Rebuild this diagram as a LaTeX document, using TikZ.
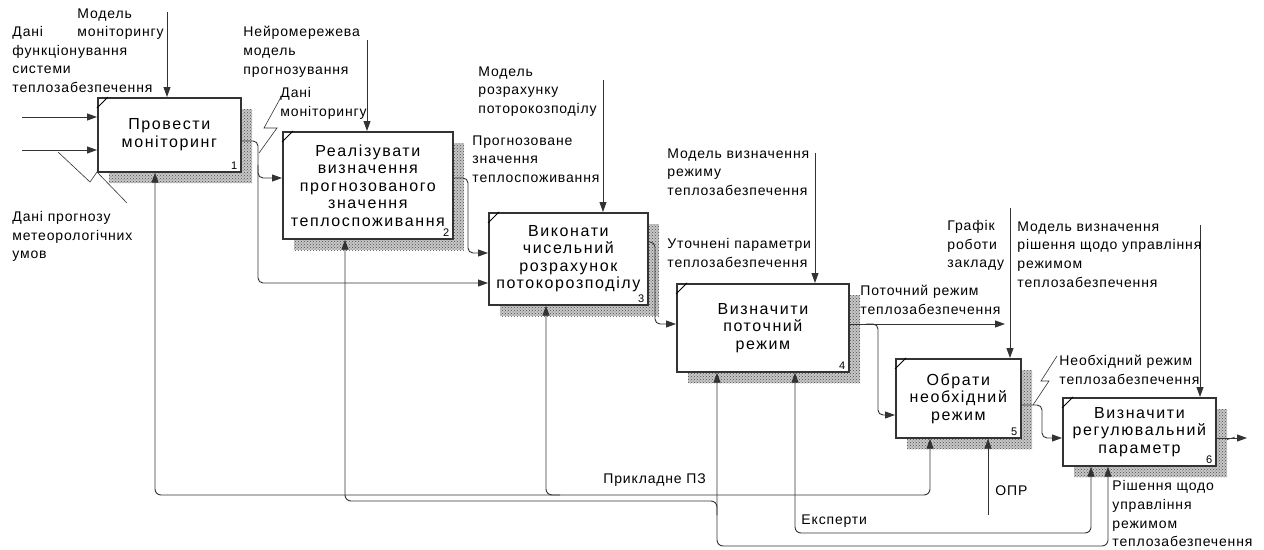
\documentclass[tikz,border=0pt]{standalone}
\usepackage{fontspec}
\setmainfont{Liberation Sans}
\newfontfamily\blockfont[LetterSpace=10]{Liberation Sans}
\newfontfamily\arrowfont[LetterSpace=6]{Liberation Sans}
\usetikzlibrary{arrows.meta,patterns}

\tikzset{
  func/.style={draw, line width=1.7pt, fill=white, anchor=north west, align=center, inner sep=0pt,
    font=\blockfont\fontsize{16}{17.5}\selectfont},
  funcshadow/.style={fill=black!22, postaction={pattern=crosshatch dots, pattern color=black!70}},
  funcno/.style={anchor=south east, inner sep=0pt, font=\fontsize{11}{11}\selectfont},
  arr/.style={-{Triangle[length=10pt,width=7pt]}},
  arrs/.style={{Triangle[length=10pt,width=7pt]}-{Triangle[length=10pt,width=7pt]}},
  arrlabel/.style={anchor=north west, align=left, inner sep=0pt,
    font=\arrowfont\fontsize{14}{18.7}\selectfont},
  squiggle/.style={line width=0.6pt},
}

\begin{document}
\begin{tikzpicture}[x=1pt, y=-1pt, line width=0.9pt, draw=black!80]
% IDEF0 decomposition, pixel-like coordinates (y grows downwards)
\useasboundingbox (0,0) rectangle (1264,549);
% Function block: name, x, y, width, height, text, number
\providecommand{\funcblock}[7]{%
  \path[funcshadow] (#2+12,#3+12) rectangle ++(#4,#5);
  \node[func, minimum width=#4pt, minimum height=#5pt] (#1) at (#2,#3) {#6};
  \draw[line width=0.9pt, black] ([yshift=-11pt]#1.north west) -- ([xshift=11pt]#1.north west);
  \node[funcno] at ([xshift=-4pt,yshift=3pt]#1.south east) {#7};
}
% Label tie of block 6 output runs under the block
\draw[squiggle] (1235,437) -- (1113,477);
% Blocks
\funcblock{b1}{97}{97}{143}{74}{Провести\\моніторинг}{1}
\funcblock{b2}{282}{131}{170}{107}{Реалізувати\\визначення\\прогнозованого\\значення\\теплоспоживання}{2}
\funcblock{b3}{488}{212}{159}{92}{Виконати\\чисельний\\розрахунок\\потокорозподілу}{3}
\funcblock{b4}{676}{283}{172}{88}{Визначити\\поточний\\режим}{4}
\funcblock{b5}{895}{358}{125}{79}{Обрати\\необхідний\\режим}{5}
\funcblock{b6}{1062}{397}{153}{68}{Визначити\\регулювальний\\параметр}{6}
% Inputs
\coordinate (in1) at (22,117);
\coordinate (in2) at (22,150);
\draw[arr] (in1) -- (in1 -| b1.west);
\draw[arr] (in2) -- (in2 -| b1.west);
% Controls
\coordinate (c1) at (167,12);
\coordinate (c2) at (367,40);
\coordinate (c3) at (603,80);
\coordinate (c4) at (815,153);
\coordinate (c5) at (1010,208);
\coordinate (c6) at (1200,225);
\draw[arr] (c1) -- (c1 |- b1.north);
\draw[arr] (c2) -- (c2 |- b2.north);
\draw[arr] (c3) -- (c3 |- b3.north);
\draw[arr] (c4) -- (c4 |- b4.north);
\draw[arr] (c5) -- (c5 |- b5.north);
\draw[arr] (c6) -- (c6 |- b6.north);
% Outputs
\draw[arr, rounded corners=5pt] (b1.east |- 0,141) -| (258,283) -- (b3.west |- 0,283);
\draw[arr, rounded corners=5pt] (258,165) |- (b2.west |- 0,178);
\draw[arr, rounded corners=5pt] (b2.east |- 0,178) -| (468,253) -- (b3.west |- 0,253);
\draw[arr, rounded corners=5pt] (b3.east |- 0,242) -| (655,324) -- (b4.west |- 0,324);
\coordinate (o4) at (1005,324);
\draw[arr] (b4.east |- o4) -- (o4);
\draw[arr, rounded corners=5pt] (866,324) -| (878,415) -- (b5.west |- 0,415);
\draw[arr, rounded corners=5pt] (b5.east |- 0,405) -| (1042,438) -- (b6.west |- 0,438);
\coordinate (o6) at (1247,438);
\draw[arr] (b6.east |- o6) -- (o6);
% Mechanisms
\draw[arrs, rounded corners=6pt] (155,0 |- b1.south) -- (155,495) -- (930,495) -- (930,0 |- b5.south);
\draw[arr, rounded corners=6pt] (560,495) -| (546,0 |- b3.south);
\draw[arr, rounded corners=6pt] (717,515) |- (345,501) -- (345,0 |- b2.south);
\draw[arrs, rounded corners=6pt] (717,0 |- b4.south) -- (717,546) -- (1108,546) -- (1108,0 |- b6.south);
\draw[arrs, rounded corners=6pt] (795,0 |- b4.south) -- (795,533) -- (1091,533) -- (1091,0 |- b6.south);
\coordinate (opr) at (988,515);
\draw[arr] (opr) -- (opr |- b5.south);
% Label ties
\draw[squiggle] (58,152) -- (90,182) -- (97,172) -- (127,203);
\draw[squiggle] (259,153) -- (277,128) -- (264,128) -- (281,97);
\draw[squiggle] (1033,405) -- (1049,381) -- (1041,381) -- (1057,356);
% Arrow labels
\node[arrlabel] (l-func) at (12,26) {Дані\\функціонування\\системи\\теплозабезпечення};
\node[arrlabel] (l-monmodel) at (77,8) {Модель\\моніторингу};
\node[arrlabel] (l-meteo) at (12,211) {Дані прогнозу\\метеорологічних\\умов};
\node[arrlabel] (l-neuro) at (243,26) {Нейромережева\\модель\\прогнозування};
\node[arrlabel] (l-mondata) at (280,87) {Дані\\моніторингу};
\node[arrlabel] (l-flowmodel) at (478,66) {Модель\\розрахунку\\поторокозподілу};
\node[arrlabel] (l-forecast) at (472,135) {Прогнозоване\\значення\\теплоспоживання};
\node[arrlabel] (l-modemodel) at (667,148) {Модель визначення\\режиму\\теплозабезпечення};
\node[arrlabel] (l-params) at (667,238) {Уточнені параметри\\теплозабезпечення};
\node[arrlabel] (l-curmode) at (860,285) {Поточний режим\\теплозабезпечення};
\node[arrlabel] (l-schedule) at (947,220) {Графік\\роботи\\закладу};
\node[arrlabel] (l-decmodel) at (1017,221) {Модель визначення\\рішення щодо управління\\режимом\\теплозабезпечення};
\node[arrlabel] (l-reqmode) at (1059,355) {Необхідний режим\\теплозабезпечення};
\node[arrlabel] (l-decision) at (1112,480) {Рішення щодо\\управління\\режимом\\теплозабезпечення};
\node[arrlabel] (l-software) at (603,473) {Прикладне ПЗ};
\node[arrlabel] (l-experts) at (801,514) {Експерти};
\node[arrlabel] (l-dm) at (995,485) {ОПР};
\end{tikzpicture}
\end{document}
